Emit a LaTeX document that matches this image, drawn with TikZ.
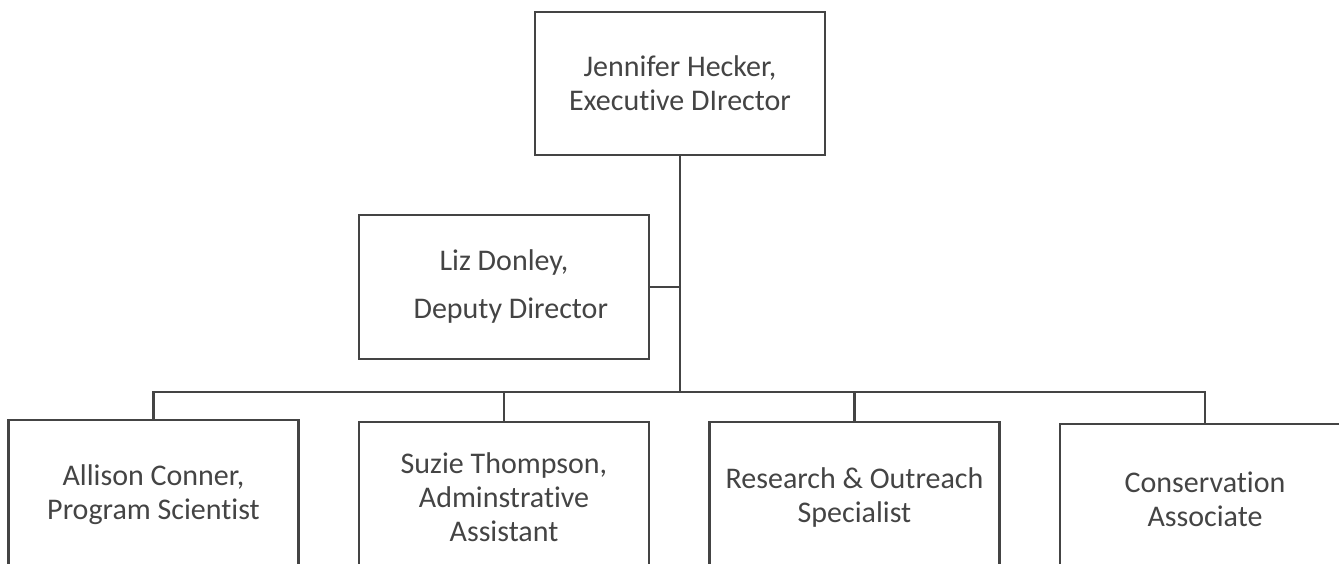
\documentclass[tikz,border=0pt]{standalone}
\usepackage{fontspec}
\setmainfont{Carlito}[Ligatures=NoCommon]
\usepackage{tikz}
\usetikzlibrary{calc}
\definecolor{ink}{HTML}{444444}

\begin{document}
\begin{tikzpicture}[x=1pt, y=-1pt,
		post/.style={draw=ink, line width=2.4pt, text=ink, minimum width=290pt, align=center, inner sep=0pt, font=\fontsize{30}{34}\selectfont},
		link/.style={draw=ink, line width=2.4pt}]
			\useasboundingbox (0,0) rectangle (1339,564);
			\clip (0,0) rectangle (1339,564);
			
			\node[post, minimum height=143pt] (exec) at (680,83.5) {Jennifer Hecker,\\Executive DIrector};
			\node[post, minimum height=144pt] (deputy) at (504,287) {Liz Donley,\\[14pt]\ \ Deputy Director};
			
			\node[post, minimum height=150pt] (conner) at (153.5,495) {Allison Conner,\\Program Scientist};
			\node[post, minimum height=150pt] (thompson) at (504,497) {Suzie Thompson,\\Adminstrative\\Assistant};
			\node[post, minimum height=150pt] (research) at (854.5,497) {Research \& Outreach\\Specialist};
			\node[post, minimum height=150pt] (consv) at (1205,499) {Conservation\\Associate};
			
			\coordinate (hub) at (680,392);
			\draw[link] (exec.south) -- (hub);
			\draw[link] (deputy.east) -- (deputy.east -| hub);
			\draw[link] (conner.north) |- (hub) -| (consv.north);
			\draw[link] (thompson.north) -- (thompson.north |- hub);
			\draw[link] (research.north) -- (research.north |- hub);
		\end{tikzpicture}
\end{document}
